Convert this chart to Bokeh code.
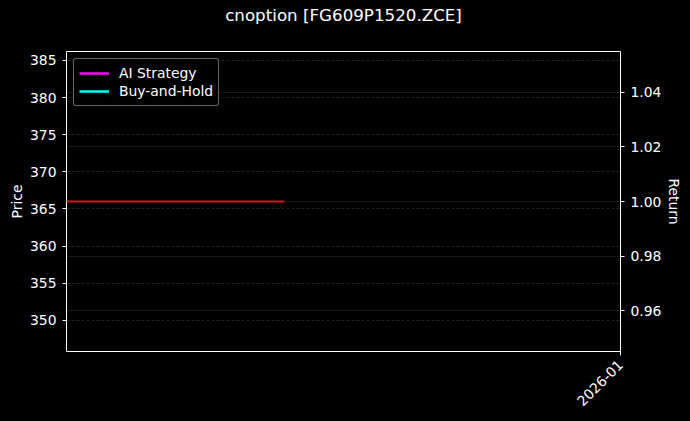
import pandas as pd
from math import pi
from bokeh.plotting import figure
from bokeh.models import (ColumnDataSource, Range1d, LinearAxis, Grid, FixedTicker, Title,
                          Legend, DatetimeTickFormatter, PrintfTickFormatter)
from bokeh.embed import file_html
from bokeh.resources import INLINE

# data
dates = pd.to_datetime(["2025-12-04", "2025-12-05", "2025-12-08", "2025-12-09",
                        "2025-12-10", "2025-12-11", "2025-12-12", "2025-12-15"])
price = [366.0, 366.0, 366.0, 366.0, 366.0, 366.0, 366.0, 366.0]
ai_return = [1.0, 1.0, 1.0, 1.0, 1.0, 1.0, 1.0, 1.0]
bh_return = [1.0, 1.0, 1.0, 1.0, 1.0, 1.0, 1.0, 1.0]
price_ticks = [350, 355, 360, 365, 370, 375, 380, 385]
return_ticks = [0.96, 0.98, 1.00, 1.02, 1.04]
x_end = pd.Timestamp("2026-01-01")
x_ticks = [x_end]

FONT = "DejaVu Sans"
FS = "13.9px"

src = ColumnDataSource(dict(date=dates, price=price, ai=ai_return, bh=bh_return))

p = figure(frame_width=554, frame_height=300, x_axis_type="datetime",
           x_range=Range1d(dates[0], x_end), y_range=Range1d(345.8, 386.2),
           title="cnoption [FG609P1520.ZCE]",
           output_backend="svg", toolbar_location=None,
           min_border_left=66, min_border_right=70, min_border_top=51, min_border_bottom=70)
p.extra_y_ranges = {"ret": Range1d(0.945, 1.055)}

p.background_fill_color = "black"
p.border_fill_color = "black"
p.outline_line_color = "white"
p.outline_line_width = 1

p.title.text_color = "white"
p.title.text_font = FONT
p.title.text_font_size = "16.7px"
p.title.text_font_style = "normal"
p.title.align = "center"
p.title.standoff = 4

# blank spacer between the title and the frame
p.add_layout(Title(text=" ", text_font_size="1px", standoff=22), "above")

ax2 = LinearAxis(y_range_name="ret", axis_label="Return")
p.add_layout(ax2, "right")

p.xaxis.ticker = FixedTicker(ticks=[t.value // 10**6 for t in x_ticks])
fmt = "%Y-%m"
p.xaxis.formatter = DatetimeTickFormatter(microseconds=fmt, milliseconds=fmt, seconds=fmt,
                                          minsec=fmt, minutes=fmt, hourmin=fmt, hours=fmt,
                                          days=fmt, months=fmt, years=fmt)
p.xaxis.major_label_orientation = pi / 4

p.yaxis[0].ticker = FixedTicker(ticks=price_ticks)
p.yaxis[0].axis_label = "Price"
ax2.ticker = FixedTicker(ticks=return_ticks)
ax2.formatter = PrintfTickFormatter(format="%.2f")

for ax in p.axis:
    ax.axis_line_color = None
    ax.major_tick_line_color = "white"
    ax.major_tick_out = 4
    ax.major_tick_in = 0
    ax.minor_tick_line_color = None
    ax.major_label_text_color = "white"
    ax.major_label_text_font = FONT
    ax.major_label_text_font_size = FS
    ax.major_label_standoff = 6
    ax.axis_label_text_color = "white"
    ax.axis_label_text_font = FONT
    ax.axis_label_text_font_size = FS
    ax.axis_label_text_font_style = "normal"
    ax.axis_label_standoff = 2
p.xaxis.major_label_standoff = 7

p.xgrid.visible = False
p.ygrid.grid_line_color = "gray"
p.ygrid.grid_line_alpha = 0.45
p.ygrid.grid_line_dash = "3 2"
p.ygrid.grid_line_width = 0.6

g2 = Grid(dimension=1, axis=ax2, ticker=ax2.ticker, y_range_name="ret",
          grid_line_color="gray", grid_line_alpha=0.3, grid_line_width=0.6)
p.add_layout(g2)

p.line("date", "ai", source=src, y_range_name="ret", color="#ff00ff", line_width=1)
p.line("date", "bh", source=src, y_range_name="ret", color="#00ffff", line_width=1)
p.line("date", "price", source=src, color="#cc1a1a", line_width=2)

# one-point renderers only used for the legend swatches
sw_ai = p.line(x=[dates[0]], y=[ai_return[0]], y_range_name="ret", color="#ff00ff", line_width=2.5)
sw_bh = p.line(x=[dates[0]], y=[bh_return[0]], y_range_name="ret", color="#00ffff", line_width=2.5)

legend = Legend(items=[("AI Strategy", [sw_ai]), ("Buy-and-Hold", [sw_bh])],
                location="top_left", margin=7, padding=5, spacing=0,
                glyph_width=30, glyph_height=18, label_height=18, label_standoff=10,
                label_text_color="white", label_text_font=FONT, label_text_font_size=FS,
                background_fill_color="black", background_fill_alpha=0.8,
                border_line_color="#cccccc", border_line_width=1, border_radius=3)
p.add_layout(legend)

html = file_html(p, INLINE)
html = html.replace("<head>", "<head><style>body{background:#000;}</style>", 1)
open("out.html", "w").write(html)
